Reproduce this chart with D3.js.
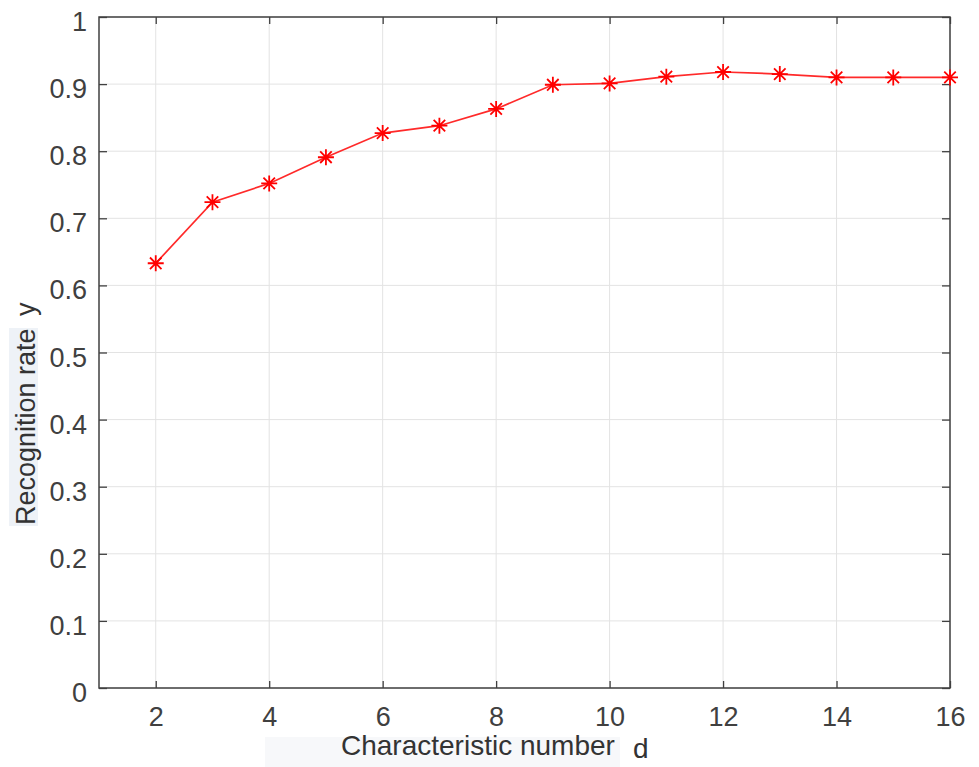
<!DOCTYPE html>
<html>
<head>
<meta charset="utf-8">
<script src="https://cdn.jsdelivr.net/npm/d3@7"></script>
<style>
  body { margin: 0; background: #fff; }
  text { font-family: "Liberation Sans", Arial, sans-serif; }
</style>
</head>
<body>
<div id="chart"></div>
<script>
// data
const dims = [2, 3, 4, 5, 6, 7, 8, 9, 10, 11, 12, 13, 14, 15, 16];
const rates = [0.633, 0.724, 0.752, 0.791, 0.827, 0.838, 0.863, 0.899, 0.901, 0.911, 0.918, 0.915, 0.910, 0.910, 0.910];
const xTicks = [2, 4, 6, 8, 10, 12, 14, 16];
const yTicks = [0, 0.1, 0.2, 0.3, 0.4, 0.5, 0.6, 0.7, 0.8, 0.9, 1];
const xLabel = "Characteristic number";
const yLabel = "Recognition rate";

let margin = { top: 17, left: 99, right: 29, bottom: 79 },
  width = 979 - margin.left - margin.right,
  height = 767 - margin.top - margin.bottom;

let root = d3.select("#chart")
  .append("svg")
  .attr("width", 979)
  .attr("height", 767);

// faint highlight boxes behind the axis titles (screenshot artifact)
root.append("rect")
  .attr("x", 265).attr("y", 737).attr("width", 355).attr("height", 30)
  .style("fill", "#f7f8fa");
root.append("rect")
  .attr("x", 9).attr("y", 328).attr("width", 29).attr("height", 198)
  .style("fill", "#eef2f7");

let svg = root.append("g")
  .attr("transform", "translate(" + margin.left + "," + margin.top + ")");

const x = d3.scaleLinear().domain([1, 16]).range([0, width]);
const y = d3.scaleLinear().domain([0, 1]).range([height, 0]);

// grid
svg.append("g")
  .selectAll("line")
  .data(xTicks)
  .enter().append("line")
  .attr("x1", d => x(d)).attr("x2", d => x(d))
  .attr("y1", 0).attr("y2", height)
  .style("stroke", "#e3e3e3")
  .style("stroke-width", 1);

svg.append("g")
  .selectAll("line")
  .data(yTicks)
  .enter().append("line")
  .attr("x1", 0).attr("x2", width)
  .attr("y1", d => y(d)).attr("y2", d => y(d))
  .style("stroke", "#e3e3e3")
  .style("stroke-width", 1);

// axes, ticks pointing inward on all four sides
const axisColor = "#404040";
function styleAxis(g) {
  g.select(".domain").remove();
  g.selectAll(".tick line").style("stroke", axisColor).style("stroke-width", 1.3);
  g.selectAll("text")
    .style("font-size", "27px")
    .style("fill", axisColor);
}

svg.append("g")
  .attr("transform", "translate(0," + height + ")")
  .call(d3.axisBottom(x).tickValues(xTicks).tickSize(-7).tickPadding(19).tickFormat(d3.format("d")))
  .call(styleAxis)
  .selectAll("text").attr("dy", "0.71em");

svg.append("g")
  .call(d3.axisTop(x).tickValues(xTicks).tickSize(-7).tickFormat(""))
  .call(styleAxis);

svg.append("g")
  .call(d3.axisLeft(y).tickValues(yTicks).tickSize(-8).tickPadding(12).tickFormat(d => d === 0 || d === 1 ? d : d.toFixed(1)))
  .call(styleAxis)
  .selectAll("text").attr("dy", "0.5em");

svg.append("g")
  .attr("transform", "translate(" + width + ",0)")
  .call(d3.axisRight(y).tickValues(yTicks).tickSize(-8).tickFormat(""))
  .call(styleAxis);

// box
svg.append("rect")
  .attr("width", width)
  .attr("height", height)
  .style("fill", "none")
  .style("stroke", axisColor)
  .style("stroke-width", 1.5);

// line + asterisk markers
const pts = dims.map((d, i) => [d, rates[i]]);

svg.append("path")
  .datum(pts)
  .attr("d", d3.line().x(d => x(d[0])).y(d => y(d[1])))
  .style("fill", "none")
  .style("stroke", "#ff2a2a")
  .style("stroke-width", 1.7);

const r = 8, q = r * 0.72;
const star = `M${-r},0L${r},0M0,${-r}L0,${r}M${-q},${-q}L${q},${q}M${-q},${q}L${q},${-q}`;

svg.append("g")
  .selectAll("path")
  .data(pts)
  .enter().append("path")
  .attr("transform", d => "translate(" + x(d[0]) + "," + y(d[1]) + ")")
  .attr("d", star)
  .style("fill", "none")
  .style("stroke", "#ff0000")
  .style("stroke-width", 1.8);

// axis titles
root.append("text")
  .attr("x", 341)
  .attr("y", 755)
  .style("font-size", "28px")
  .style("fill", "#333")
  .text(xLabel);

root.append("text")
  .attr("x", 633)
  .attr("y", 758)
  .style("font-size", "28px")
  .style("fill", "#333")
  .text("d");

root.append("text")
  .attr("transform", "translate(35,525) rotate(-90)")
  .style("font-size", "27px")
  .style("fill", "#333")
  .text(yLabel);

root.append("text")
  .attr("transform", "translate(35,316) rotate(-90)")
  .style("font-size", "27px")
  .style("fill", "#333")
  .text("y");
</script>
</body>
</html>
